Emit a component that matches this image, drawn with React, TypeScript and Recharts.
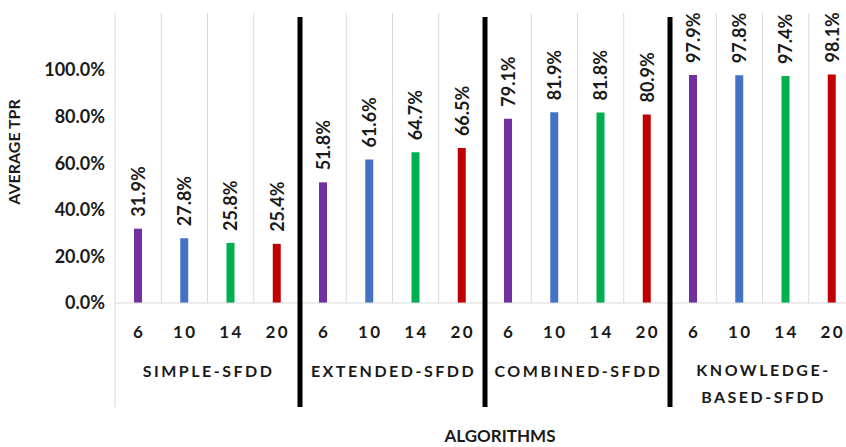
import { BarChart, Bar, XAxis, YAxis, Cell, LabelList } from "recharts";

// categories
const groups = ["SIMPLE-SFDD", "EXTENDED-SFDD", "COMBINED-SFDD", "KNOWLEDGE-BASED-SFDD"];
const sizes = ["6", "10", "14", "20"];
const sizeColors = ["#7030A0", "#4472C4", "#00B050", "#C00000"];

// average TPR (%) per group, in the order of sizes
const simpleTpr = [31.9, 27.8, 25.8, 25.4];
const extendedTpr = [51.8, 61.6, 64.7, 66.5];
const combinedTpr = [79.1, 81.9, 81.8, 80.9];
const knowledgeTpr = [97.9, 97.8, 97.4, 98.1];

const yTicks = [0, 20, 40, 60, 80, 100];

const tprByGroup = [simpleTpr, extendedTpr, combinedTpr, knowledgeTpr];

const rows = groups.flatMap((g, gi) =>
  sizes.map((s, si) => ({
    key: `${g}-${s}`,
    group: g,
    size: s,
    tpr: tprByGroup[gi][si],
    color: sizeColors[si],
  }))
);

// layout
const W = 870;
const H = 447;
const M = { top: 13, right: 15, left: 20, bottom: 0 };
const Y_W = 95;
const X_H = 144;
const PLOT_TOP = M.top;
const PLOT_BOTTOM = H - X_H;
const BAND = (W - M.left - Y_W - M.right) / rows.length;
const LINE_BOTTOM = 407;

const FONT = "Lato, 'Open Sans', sans-serif";
const TEXT = "#1a1a1a";
const GRID = "#d9d9d9";

const CategoryTick = (props: any) => {
  const { x, index } = props;
  const row = rows[index];
  if (!row) return null;
  const left = x - BAND / 2;
  const groupStart = index % 4 === 0 && index > 0;
  const groupLabelX = x + BAND / 2;
  const lines = row.group === "KNOWLEDGE-BASED-SFDD" ? ["KNOWLEDGE-", "BASED-SFDD"] : [row.group];
  return (
    <g>
      {/* separators: thick black between groups, light grid inside */}
      {groupStart ? (
        <line x1={left} x2={left} y1={17} y2={LINE_BOTTOM} stroke="#000" strokeWidth={5} />
      ) : (
        <line x1={left} x2={left} y1={PLOT_TOP} y2={index === 0 ? LINE_BOTTOM : PLOT_BOTTOM} stroke={GRID} strokeWidth={1} />
      )}
      {index === rows.length - 1 && (
        <line x1={x + BAND / 2} x2={x + BAND / 2} y1={PLOT_TOP} y2={LINE_BOTTOM} stroke={GRID} strokeWidth={1} />
      )}
      <text
        x={x + 1}
        y={331}
        textAnchor="middle"
        dominantBaseline="central"
        fontFamily={FONT}
        fontWeight={700}
        fontSize={17}
        letterSpacing={2.5}
        fill={TEXT}
      >
        {row.size}
      </text>
      {index % 4 === 1 &&
        lines.map((t, i) => (
          <text
            key={t}
            x={groupLabelX + 1}
            y={lines.length > 1 ? 369 + i * 27 : 370}
            textAnchor="middle"
            dominantBaseline="central"
            fontFamily={FONT}
            fontWeight={700}
            fontSize={16}
            letterSpacing={2.5}
            fill={TEXT}
          >
            {t}
          </text>
        ))}
    </g>
  );
};

const BarValueLabel = (props: any) => {
  const { x, y, width, value } = props;
  const cx = x + width / 2;
  const cy = y - 12;
  return (
    <text
      x={cx}
      y={cy}
      transform={`rotate(-90 ${cx} ${cy})`}
      textAnchor="start"
      dominantBaseline="central"
      fontFamily={FONT}
      fontWeight={700}
      fontSize={18}
      fill={TEXT}
    >
      {`${Number(value).toFixed(1)}%`}
    </text>
  );
};

export default function App() {
  return (
    <div style={{ position: "fixed", left: 0, top: 0, width: 846, height: 447, overflow: "hidden", background: "#fff" }}>
      <BarChart width={W} height={H} data={rows} margin={M} barSize={8}>
        <XAxis
          dataKey="key"
          interval={0}
          height={X_H}
          tick={<CategoryTick />}
          tickLine={false}
          axisLine={{ stroke: GRID, strokeWidth: 1 }}
          label={() => (
            <text x={500} y={435} textAnchor="middle" dominantBaseline="central" fontFamily={FONT} fontWeight={700} fontSize={17} fill={TEXT}>
              ALGORITHMS
            </text>
          )}
        />
        <YAxis
          width={Y_W}
          domain={[0, 124.5]}
          ticks={yTicks}
          allowDataOverflow
          tickFormatter={(v: number) => `${v.toFixed(1)}%`}
          axisLine={false}
          tickLine={false}
          tickSize={0}
          tickMargin={10}
          tick={{ fontFamily: FONT, fontWeight: 700, fontSize: 18, fill: TEXT }}
          label={() => (
            <text
              x={13}
              y={152}
              transform="rotate(-90 13 152)"
              textAnchor="middle"
              dominantBaseline="central"
              fontFamily={FONT}
              fontWeight={700}
              fontSize={16}
              fill={TEXT}
            >
              AVERAGE TPR
            </text>
          )}
        />
        <Bar dataKey="tpr" isAnimationActive={false}>
          {rows.map((r) => (
            <Cell key={r.key} fill={r.color} />
          ))}
          <LabelList dataKey="tpr" content={<BarValueLabel />} />
        </Bar>
      </BarChart>
    </div>
  );
}
